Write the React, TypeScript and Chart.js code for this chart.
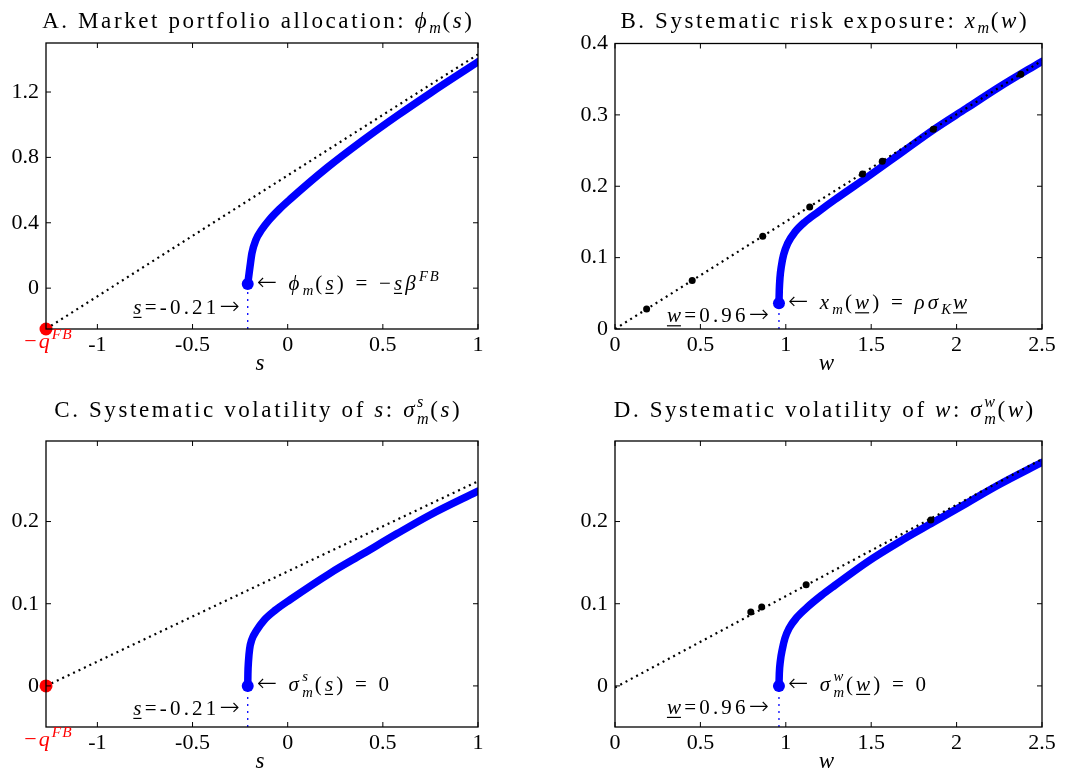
import React, { useEffect, useRef } from "react";
import { Chart, registerables } from "chart.js";
Chart.register(...registerables);

const FONT = '"Liberation Serif", "DejaVu Serif", serif';
const ARROW_FONT = '"DejaVu Sans Light", "DejaVu Sans ExtraLight", "DejaVu Sans", sans-serif';

// ---------- Panel A: market portfolio allocation phi_m(s)
const sA = [-0.21, -0.205, -0.198, -0.188, -0.167, -0.137, -0.097, -0.044, 0.012, 0.205, 0.399, 0.575, 0.75, 1.0];
const phiA = [0.026, 0.07, 0.132, 0.214, 0.296, 0.357, 0.418, 0.483, 0.543, 0.735, 0.908, 1.055, 1.194, 1.385];
const fbSA = [-1.27, 1.0];
const fbPhiA = [-0.25, 1.43];

// ---------- Panel B: systematic risk exposure x_m(w)
const wB = [0.96, 0.962, 0.966, 0.974, 0.987, 1.011, 1.054, 1.112, 1.189, 1.286, 1.478, 1.671, 1.864, 2.057, 2.25, 2.5];
const xmB = [0.036, 0.055, 0.072, 0.088, 0.104, 0.12, 0.136, 0.15, 0.164, 0.181, 0.213, 0.246, 0.279, 0.309, 0.339, 0.375];
const fbWB = [0, 2.5];
const fbXmB = [0, 0.376];
const dotWB = [0.185, 0.452, 0.865, 1.14, 1.449, 1.565, 1.864, 2.376];
const dotXmB = [0.028, 0.068, 0.13, 0.171, 0.217, 0.235, 0.28, 0.357];

// ---------- Panel C: systematic volatility of s
const sC = [-0.21, -0.209, -0.206, -0.2, -0.189, -0.162, -0.124, -0.066, 0.013, 0.222, 0.398, 0.573, 0.748, 1.0];
const volC = [0, 0.015, 0.03, 0.045, 0.056, 0.068, 0.08, 0.092, 0.105, 0.137, 0.161, 0.185, 0.208, 0.237];
const fbSC = [-1.27, 1.0];
const fbVolC = [0, 0.249];

// ---------- Panel D: systematic volatility of w
const wD = [0.96, 0.962, 0.968, 0.98, 0.995, 1.019, 1.063, 1.127, 1.208, 1.285, 1.478, 1.671, 1.864, 2.057, 2.25, 2.5];
const volD = [0, 0.015, 0.03, 0.045, 0.058, 0.07, 0.083, 0.096, 0.11, 0.122, 0.151, 0.176, 0.199, 0.222, 0.245, 0.272];
const fbWD = [0, 2.5];
const fbVolD = [-0.002, 0.276];
const dotWD = [0.795, 0.859, 1.119, 1.849];
const dotVolD = [0.09, 0.096, 0.123, 0.202];

// ---------- ticks
const sTicks = [-1, -0.5, 0, 0.5, 1];
const sTickLabels = ["-1", "-0.5", "0", "0.5", "1"];
const wTicks = [0, 0.5, 1, 1.5, 2, 2.5];
const wTickLabels = ["0", "0.5", "1", "1.5", "2", "2.5"];
const yTicksA = [0, 0.4, 0.8, 1.2];
const yTickLabelsA = ["0", "0.4", "0.8", "1.2"];
const yTicksB = [0, 0.1, 0.2, 0.3, 0.4];
const yTickLabelsB = ["0", "0.1", "0.2", "0.3", "0.4"];
const yTicksCD = [0, 0.1, 0.2];
const yTickLabelsCD = ["0", "0.1", "0.2"];

type Seg = { t?: string; it?: boolean; ul?: boolean; v?: "sup" | "sub"; sup?: string; sub?: string; f?: string; k?: number };

function fontStr(it: boolean, size: number, fam?: string) {
  return `${it ? "italic " : ""}${size}px ${fam || FONT}`;
}

function runChars(ctx: CanvasRenderingContext2D, str: string, f: string, start: number, dy: number, spacing: number, out: any[]) {
  ctx.font = f;
  let px = start;
  for (const ch of str) {
    out.push({ ch, f, x: px, dy });
    px += ctx.measureText(ch).width + spacing;
  }
  return px;
}

function drawRich(ctx: CanvasRenderingContext2D, segs: Seg[], x: number, y: number, size: number, ls: number, align: string, color: string) {
  const out: any[] = [];
  const uls: [number, number][] = [];
  let cx = 0;
  let lastSp = ls;
  for (const s of segs) {
    if (s.sup !== undefined || s.sub !== undefined) {
      const f = fontStr(true, size * 0.7);
      const e1 = runChars(ctx, s.sup || "", f, cx, -0.45 * size, ls * 0.6, out);
      const e2 = runChars(ctx, s.sub || "", f, cx, 0.3 * size, ls * 0.6, out);
      cx = Math.max(e1, e2);
      lastSp = ls * 0.6;
    } else {
      const sz = (s.v ? size * 0.7 : size) * (s.k || 1);
      const dy = s.v === "sup" ? -0.42 * size : s.v === "sub" ? 0.22 * size : 0;
      const sp = s.v ? ls * 0.6 : ls;
      const st = cx;
      cx = runChars(ctx, s.t || "", fontStr(!!s.it, sz, s.f), cx, dy, sp, out);
      lastSp = sp;
      if (s.ul) uls.push([st, cx - sp]);
    }
  }
  const total = cx - lastSp;
  const x0 = align === "left" ? x : align === "center" ? x - total / 2 : x - total;
  ctx.save();
  ctx.fillStyle = color;
  ctx.strokeStyle = color;
  ctx.textBaseline = "alphabetic";
  ctx.textAlign = "left";
  for (const g of out) {
    ctx.font = g.f;
    ctx.fillText(g.ch, x0 + g.x, y + g.dy);
  }
  ctx.lineWidth = 1.2;
  for (const [a, b] of uls) {
    ctx.beginPath();
    ctx.moveTo(x0 + a, y + 3.5);
    ctx.lineTo(x0 + b, y + 3.5);
    ctx.stroke();
  }
  ctx.restore();
}

const TITLE_SIZE = 23;
const TITLE_LS = 2.6;
const ANN_SIZE = 21;
const ANN_LS = 3.2;
const TICK_SIZE = 22;

type Spec = {
  left: number; top: number; w: number; h: number;
  area: { l: number; t: number; r: number; b: number };
  xMin: number; xMax: number; yMin: number; yMax: number;
  xTicks: number[]; xLabels: string[]; yTicks: number[]; yLabels: string[];
  cx: number[]; cy: number[]; fx: number[]; fy: number[];
  dx?: number[]; dy?: number[];
  vlineX: number; vlineY0: number; vlineY1: number;
  red?: [number, number];
  title: Seg[]; titleY: number; axis: string;
  ann1: Seg[]; ann1d: [number, number]; ann2: Seg[]; ann2d: [number, number];
};

const LARROW: Seg = { t: "←", f: ARROW_FONT, k: 1.15 };
const RARROW: Seg = { t: "→", f: ARROW_FONT, k: 1.15 };

const specs: Spec[] = [
  {
    left: 0, top: 0, w: 533, h: 387, area: { l: 46, t: 43, r: 478, b: 329 },
    xMin: -1.27, xMax: 1, yMin: -0.25, yMax: 1.5,
    xTicks: sTicks, xLabels: sTickLabels, yTicks: yTicksA, yLabels: yTickLabelsA,
    cx: sA, cy: phiA, fx: fbSA, fy: fbPhiA,
    vlineX: -0.21, vlineY0: -0.25, vlineY1: 0.0, red: [-1.27, -0.25],
    title: [{ t: "A. Market portfolio allocation: " }, { t: "ϕ", it: true }, { t: "m", it: true, v: "sub" }, { t: "(" }, { t: "s", it: true }, { t: ")" }],
    titleY: 28, axis: "s",
    ann1: [LARROW, { t: " " }, { t: "ϕ", it: true }, { t: "m", it: true, v: "sub" }, { t: "(" }, { t: "s", it: true, ul: true }, { t: ") = −" }, { t: "s", it: true, ul: true }, { t: "β", it: true }, { t: "FB", it: true, v: "sup" }],
    ann1d: [9, 6],
    ann2: [{ t: "s", it: true, ul: true }, { t: "=-0.21" }, RARROW],
    ann2d: [-8, 30],
  },
  {
    left: 533, top: 0, w: 534, h: 387, area: { l: 82, t: 43.5, r: 509, b: 329 },
    xMin: 0, xMax: 2.5, yMin: 0, yMax: 0.4,
    xTicks: wTicks, xLabels: wTickLabels, yTicks: yTicksB, yLabels: yTickLabelsB,
    cx: wB, cy: xmB, fx: fbWB, fy: fbXmB, dx: dotWB, dy: dotXmB,
    vlineX: 0.96, vlineY0: 0, vlineY1: 0.03,
    title: [{ t: "B. Systematic risk exposure: " }, { t: "x", it: true }, { t: "m", it: true, v: "sub" }, { t: "(" }, { t: "w", it: true }, { t: ")" }],
    titleY: 28, axis: "w",
    ann1: [LARROW, { t: " " }, { t: "x", it: true }, { t: "m", it: true, v: "sub" }, { t: "(" }, { t: "w", it: true, ul: true }, { t: ") = " }, { t: "ρσ", it: true }, { t: "K", it: true, v: "sub" }, { t: "w", it: true, ul: true }],
    ann1d: [9, 6],
    ann2: [{ t: "w", it: true, ul: true }, { t: "=0.96" }, RARROW],
    ann2d: [-10, 19],
  },
  {
    left: 0, top: 387, w: 533, h: 387, area: { l: 46, t: 54, r: 478, b: 340 },
    xMin: -1.27, xMax: 1, yMin: -0.05, yMax: 0.298,
    xTicks: sTicks, xLabels: sTickLabels, yTicks: yTicksCD, yLabels: yTickLabelsCD,
    cx: sC, cy: volC, fx: fbSC, fy: fbVolC,
    vlineX: -0.21, vlineY0: -0.05, vlineY1: -0.005, red: [-1.27, 0],
    title: [{ t: "C. Systematic volatility of " }, { t: "s", it: true }, { t: ": " }, { t: "σ", it: true }, { sup: "s", sub: "m" }, { t: "(" }, { t: "s", it: true }, { t: ")" }],
    titleY: 30, axis: "s",
    ann1: [LARROW, { t: " " }, { t: "σ", it: true }, { sup: "s", sub: "m" }, { t: "(" }, { t: "s", it: true, ul: true }, { t: ") = 0" }],
    ann1d: [9, 5],
    ann2: [{ t: "s", it: true, ul: true }, { t: "=-0.21" }, RARROW],
    ann2d: [-8, 29],
  },
  {
    left: 533, top: 387, w: 534, h: 387, area: { l: 82, t: 54, r: 509, b: 340 },
    xMin: 0, xMax: 2.5, yMin: -0.05, yMax: 0.298,
    xTicks: wTicks, xLabels: wTickLabels, yTicks: yTicksCD, yLabels: yTickLabelsCD,
    cx: wD, cy: volD, fx: fbWD, fy: fbVolD, dx: dotWD, dy: dotVolD,
    vlineX: 0.96, vlineY0: -0.05, vlineY1: -0.005,
    title: [{ t: "D. Systematic volatility of " }, { t: "w", it: true }, { t: ": " }, { t: "σ", it: true }, { sup: "w", sub: "m" }, { t: "(" }, { t: "w", it: true }, { t: ")" }],
    titleY: 30, axis: "w",
    ann1: [LARROW, { t: " " }, { t: "σ", it: true }, { sup: "w", sub: "m" }, { t: "(" }, { t: "w", it: true, ul: true }, { t: ") = 0" }],
    ann1d: [9, 5],
    ann2: [{ t: "w", it: true, ul: true }, { t: "=0.96" }, RARROW],
    ann2d: [-10, 28],
  },
];

const pts = (xs: number[], ys: number[]) => xs.map((x, i) => ({ x, y: ys[i] }));

function buildConfig(p: Spec): any {
  const datasets: any[] = [];
  datasets.push({
    data: [{ x: p.cx[0], y: p.cy[0] }], showLine: false, pointRadius: 6, pointBackgroundColor: "#0000ff",
    pointBorderColor: "#0000ff", pointBorderWidth: 0, clip: false, order: 0,
  });
  if (p.red) {
    datasets.push({
      data: [{ x: p.red[0], y: p.red[1] }], showLine: false, pointRadius: 6.5, pointBackgroundColor: "#ff0000",
      pointBorderColor: "#ff0000", pointBorderWidth: 0, clip: false, order: 0,
    });
  }
  if (p.dx && p.dy) {
    datasets.push({
      data: pts(p.dx, p.dy), showLine: false, pointRadius: 3.5, pointBackgroundColor: "#000",
      pointBorderWidth: 0, clip: false, order: 1,
    });
  }
  datasets.push({
    data: pts(p.fx, p.fy), showLine: true, borderColor: "#000", borderWidth: 2.2, borderDash: [2, 4],
    pointRadius: 0, clip: 0, order: 2,
  });
  datasets.push({
    data: pts(p.cx, p.cy), showLine: true, borderColor: "#0000ff", borderWidth: 7.5,
    cubicInterpolationMode: "monotone", pointRadius: 0, clip: 0, order: 3, borderCapStyle: "round",
  });
  datasets.push({
    data: [{ x: p.vlineX, y: p.vlineY0 }, { x: p.vlineX, y: p.vlineY1 }], showLine: true,
    borderColor: "#0000ff", borderWidth: 1.3, borderDash: [2, 5], pointRadius: 0, clip: 0, order: 4,
  });

  const decor = {
    id: "decor" + p.left + "_" + p.top,
    afterDraw(chart: any) {
      const ctx: CanvasRenderingContext2D = chart.ctx;
      const a = chart.chartArea;
      const xs = chart.scales.x;
      const ys = chart.scales.y;
      ctx.save();
      ctx.strokeStyle = "#000";
      ctx.lineWidth = 1.3;
      ctx.strokeRect(a.left, a.top, a.right - a.left, a.bottom - a.top);
      ctx.lineWidth = 1;
      ctx.beginPath();
      for (const v of p.xTicks) {
        const px = xs.getPixelForValue(v);
        ctx.moveTo(px, a.bottom); ctx.lineTo(px, a.bottom - 5);
        ctx.moveTo(px, a.top); ctx.lineTo(px, a.top + 5);
      }
      for (const v of p.yTicks) {
        const py = ys.getPixelForValue(v);
        ctx.moveTo(a.left, py); ctx.lineTo(a.left + 5, py);
        ctx.moveTo(a.right, py); ctx.lineTo(a.right - 5, py);
      }
      ctx.stroke();
      ctx.restore();
      const cxm = (a.left + a.right) / 2;
      drawRich(ctx, p.title, cxm - 5, p.titleY, TITLE_SIZE, TITLE_LS, "center", "#000");
      drawRich(ctx, [{ t: p.axis, it: true }], cxm - 2, a.bottom + 41, 23, 0, "center", "#000");
      const dxp = xs.getPixelForValue(p.cx[0]);
      const dyp = ys.getPixelForValue(p.cy[0]);
      drawRich(ctx, p.ann1, dxp + p.ann1d[0], dyp + p.ann1d[1], ANN_SIZE, ANN_LS, "left", "#000");
      const vx = xs.getPixelForValue(p.vlineX);
      drawRich(ctx, p.ann2, vx + p.ann2d[0], dyp + p.ann2d[1], ANN_SIZE, ANN_LS, "right", "#000");
      if (p.red) {
        drawRich(ctx, [{ t: "−" }, { t: "q", it: true }, { t: "FB", it: true, v: "sup" }], a.left + 2, a.bottom + 19, 22, 2, "center", "#ff0000");
      }
    },
  };

  const tickFont = { family: FONT, size: TICK_SIZE, lineHeight: 1.2 };
  return {
    type: "scatter",
    data: { datasets },
    options: {
      animation: false,
      responsive: false,
      events: [],
      layout: { padding: { left: 0, top: p.area.t, right: p.w - p.area.r, bottom: 0 } },
      plugins: { legend: { display: false }, tooltip: { enabled: false }, title: { display: false } },
      scales: {
        x: {
          type: "linear", min: p.xMin, max: p.xMax,
          grid: { display: false, drawTicks: false }, border: { display: false },
          ticks: {
            font: tickFont, color: "#000", padding: 3, maxRotation: 0, autoSkip: false,
            callback: (_v: any, i: number) => p.xLabels[i],
          },
          afterBuildTicks: (s: any) => { s.ticks = p.xTicks.map((v) => ({ value: v })); },
          afterFit: (s: any) => { s.height = p.h - p.area.b; },
        },
        y: {
          type: "linear", min: p.yMin, max: p.yMax,
          grid: { display: false, drawTicks: false }, border: { display: false },
          ticks: {
            font: tickFont, color: "#000", padding: 7, autoSkip: false,
            callback: (_v: any, i: number) => p.yLabels[i],
          },
          afterBuildTicks: (s: any) => { s.ticks = p.yTicks.map((v) => ({ value: v })); },
          afterFit: (s: any) => { s.width = p.area.l; },
        },
      },
    },
    plugins: [decor],
  };
}

function Panel({ spec }: { spec: Spec }) {
  const ref = useRef<HTMLCanvasElement>(null);
  useEffect(() => {
    const chart = new Chart(ref.current as HTMLCanvasElement, buildConfig(spec));
    return () => chart.destroy();
  }, [spec]);
  return (
    <canvas
      ref={ref}
      width={spec.w}
      height={spec.h}
      style={{ position: "absolute", left: spec.left, top: spec.top, width: spec.w, height: spec.h }}
    />
  );
}

export default function App() {
  return (
    <div style={{ position: "absolute", left: 0, top: 0, width: 1067, height: 774, background: "#fff" }}>
      {specs.map((s, i) => (
        <Panel key={i} spec={s} />
      ))}
    </div>
  );
}
